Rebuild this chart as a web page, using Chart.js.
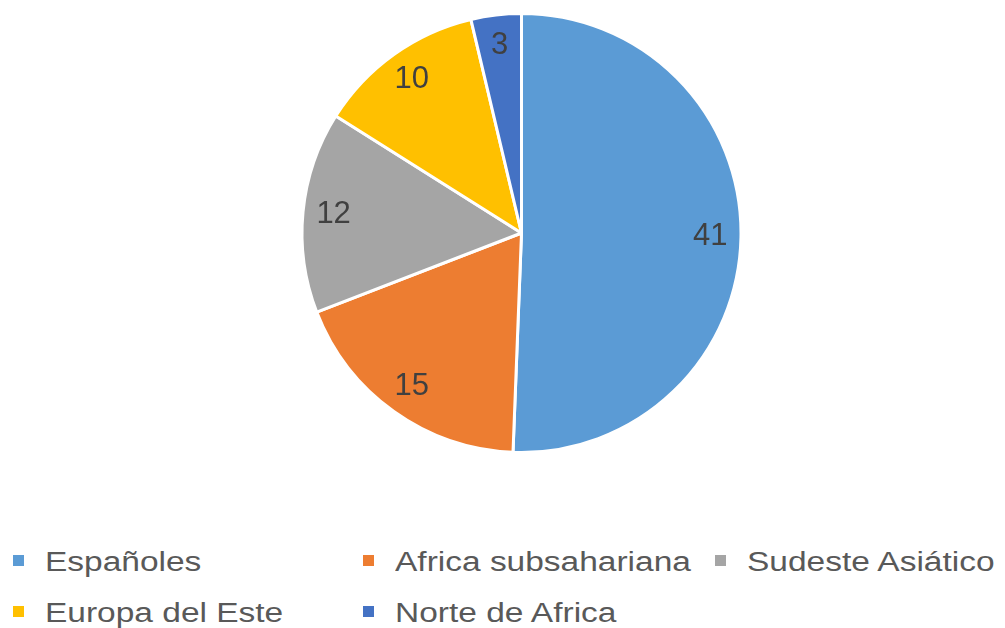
<!DOCTYPE html>
<html>
<head>
<meta charset="utf-8">
<script src="https://cdn.jsdelivr.net/npm/chart.js@4"></script>
<style>
  html, body { margin: 0; padding: 0; background: #fff; }
  #wrap { position: relative; width: 1005px; height: 628px; overflow: hidden; }
  #box { position: absolute; left: 0; top: 0; width: 1005px; height: 466px; }
  .item { position: absolute; font-family: "Liberation Sans", Arial, sans-serif; font-size: 27px;
          color: #595959; white-space: nowrap; line-height: 30px; }
  .item span.sw { position: absolute; width: 11px; height: 11px; left: 0; top: 8px; }
  .item span.tx { position: absolute; left: 32px; top: 0; transform: scaleX(1.24); transform-origin: 0 0; }
</style>
</head>
<body>
<div id="wrap">
  <div id="box"><canvas id="myChart"></canvas></div>
  <div id="legend"></div>
</div>
<script>
const categorias = ["Españoles", "Africa subsahariana", "Sudeste Asiático", "Europa del Este", "Norte de Africa"];
const valores = [41, 15, 12, 10, 3];
const colores = ["#5B9BD5", "#ED7D31", "#A5A5A5", "#FFC000", "#4472C4"];

// leyenda en columnas como en Excel
const legendCols = [13, 363, 715];
const legendRows = [547, 598];
const legend = document.getElementById("legend");
categorias.forEach((nombre, i) => {
  const div = document.createElement("div");
  div.className = "item";
  div.style.left = legendCols[i % 3] + "px";
  div.style.top = legendRows[Math.floor(i / 3)] + "px";
  div.innerHTML = '<span class="sw" style="background:' + colores[i] + '"></span><span class="tx">' + nombre + '</span>';
  legend.appendChild(div);
});

const etiquetas = {
  id: "etiquetas",
  afterDatasetsDraw(chart) {
    const ctx = chart.ctx;
    const meta = chart.getDatasetMeta(0);
    ctx.save();
    ctx.font = "31px 'Liberation Sans', Arial, sans-serif";
    ctx.fillStyle = "#404040";
    ctx.textAlign = "center";
    ctx.textBaseline = "middle";
    meta.data.forEach((arc, i) => {
      const p = arc.getProps(["x", "y", "startAngle", "endAngle", "outerRadius"], true);
      const a = (p.startAngle + p.endAngle) / 2;
      const r = p.outerRadius * 0.86;
      ctx.fillText(String(valores[i]), p.x + Math.cos(a) * r, p.y + Math.sin(a) * r);
    });
    ctx.restore();
  }
};

let myChart = new Chart(document.getElementById("myChart"), {
  type: "pie",
  data: {
    labels: categorias,
    datasets: [{
      data: valores,
      backgroundColor: colores,
      borderColor: "#ffffff",
      borderWidth: 3
    }]
  },
  options: {
    responsive: true,
    maintainAspectRatio: false,
    animation: false,
    layout: { padding: { top: 12, bottom: 12, left: 38 } },
    plugins: {
      legend: { display: false },
      tooltip: { enabled: false }
    }
  },
  plugins: [etiquetas]
});
</script>
</body>
</html>
